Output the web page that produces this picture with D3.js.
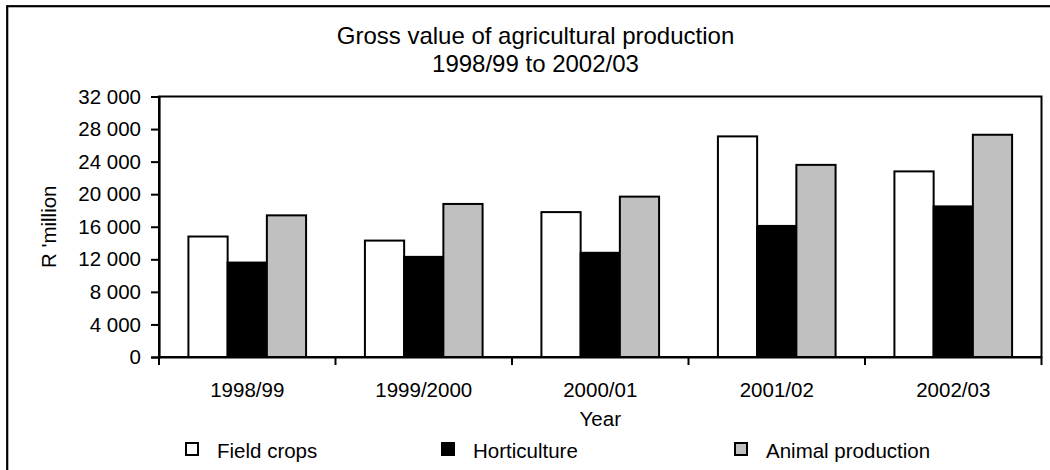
<!DOCTYPE html>
<html>
<head>
<meta charset="utf-8">
<script src="https://cdn.jsdelivr.net/npm/d3@7"></script>
<style>
  html, body { margin: 0; padding: 0; background: #fff; overflow: hidden; }
  svg { display: block; font-family: "Liberation Sans", Arial, sans-serif; }
</style>
</head>
<body>
<svg id="chart" width="1050" height="470"></svg>
<script>
const categories = ["1998/99", "1999/2000", "2000/01", "2001/02", "2002/03"];
const seriesNames = ["Field crops", "Horticulture", "Animal production"];
const fieldCrops = [14800, 14300, 17800, 27100, 22800];
const horticulture = [11600, 12300, 12800, 16100, 18500];
const animalProduction = [17400, 18800, 19700, 23600, 27300];
const yTicks = [0, 4000, 8000, 12000, 16000, 20000, 24000, 28000, 32000];
const titleLines = ["Gross value of agricultural production", "1998/99 to 2002/03"];
const yTitle = "R 'million";
const xTitle = "Year";

(function () {
const seriesValues = [fieldCrops, horticulture, animalProduction];
const seriesFill = ["#ffffff", "#000000", "#c0c0c0"];

const svg = d3.select("#chart");
const pL = 159, pR = 1041.5, pT = 96.5, pB = 357;
const fontSize = 20.5;

// outer border (extends past visible area)
svg.append("rect")
  .attr("x", 7.2).attr("y", 6.2)
  .attr("width", 1060).attr("height", 480)
  .attr("fill", "#fff").attr("stroke", "#000").attr("stroke-width", 2.2);

// title
const title = svg.append("text")
  .attr("text-anchor", "middle")
  .attr("font-size", 24)
  .attr("fill", "#000");
titleLines.forEach((t, i) => {
  title.append("tspan").attr("x", 535.5).attr("y", 43.5 + i * 28.2).text(t);
});

const x0 = d3.scaleBand().domain(categories).range([pL, pR]).paddingInner(0).paddingOuter(0);
const bw = x0.bandwidth();
const gap = bw * 0.75 / 4.5;
const x1 = d3.scaleBand().domain(seriesNames).range([gap, bw - gap]).padding(0);
const y = d3.scaleLinear().domain([0, 32000]).range([pB, pT]);

// plot frame
svg.append("rect")
  .attr("x", pL).attr("y", pT)
  .attr("width", pR - pL).attr("height", pB - pT)
  .attr("fill", "#fff").attr("stroke", "#000").attr("stroke-width", 2);

// bars
const groups = svg.append("g").selectAll("g")
  .data(categories)
  .join("g")
  .attr("transform", d => `translate(${x0(d)},0)`);

groups.selectAll("rect")
  .data((c, ci) => seriesNames.map((s, si) => ({ s, si, v: seriesValues[si][ci] })))
  .join("rect")
  .attr("x", d => x1(d.s))
  .attr("y", d => y(d.v))
  .attr("width", x1.bandwidth())
  .attr("height", d => y(0) - y(d.v))
  .attr("fill", d => seriesFill[d.si])
  .attr("stroke", "#000")
  .attr("stroke-width", 2);

// y axis
const yAxis = svg.append("g")
  .attr("transform", `translate(${pL},0)`)
  .call(d3.axisLeft(y).tickValues(yTicks).tickSize(8).tickPadding(10)
    .tickFormat(d => d3.format(",")(d).replace(/,/g, " ")));
yAxis.select(".domain").attr("stroke", "#000").attr("stroke-width", 2.2);
yAxis.selectAll(".tick line").attr("stroke", "#000").attr("stroke-width", 2);
yAxis.selectAll(".tick text").attr("font-size", fontSize).attr("fill", "#000")
  .attr("font-family", "Liberation Sans, Arial, sans-serif");

// x axis
const xAxis = svg.append("g")
  .attr("transform", `translate(0,${pB})`)
  .call(d3.axisBottom(x0).tickSize(0).tickPadding(0));
xAxis.select(".domain").attr("stroke", "#000").attr("stroke-width", 2.2);
xAxis.selectAll(".tick text").attr("font-size", fontSize).attr("fill", "#000")
  .attr("font-family", "Liberation Sans, Arial, sans-serif")
  .attr("dy", null).attr("y", 396.5 - pB);
// category boundary ticks
const boundaries = categories.map(c => x0(c)).concat([x0(categories[categories.length - 1]) + bw]);
xAxis.selectAll("line.bound")
  .data(boundaries)
  .join("line")
  .attr("class", "bound")
  .attr("x1", d => d).attr("x2", d => d)
  .attr("y1", 0).attr("y2", 8)
  .attr("stroke", "#000").attr("stroke-width", 2);

// axis titles
svg.append("text")
  .attr("x", (pL + pR) / 2).attr("y", 425.5)
  .attr("text-anchor", "middle").attr("font-size", fontSize).attr("fill", "#000")
  .text(xTitle);
svg.append("text")
  .attr("transform", `translate(55.5,${(pT + pB) / 2}) rotate(-90)`)
  .attr("text-anchor", "middle").attr("font-size", fontSize).attr("fill", "#000")
  .text(yTitle);

// legend
const legendX = [186, 442, 735];
const legend = svg.append("g").selectAll("g")
  .data(seriesNames)
  .join("g")
  .attr("transform", (d, i) => `translate(${legendX[i]},443)`);
legend.append("rect")
  .attr("x", 0).attr("y", 0).attr("width", 12).attr("height", 12)
  .attr("fill", (d, i) => seriesFill[i])
  .attr("stroke", "#000").attr("stroke-width", 2);
legend.append("text")
  .attr("x", 31).attr("y", 14.5)
  .attr("font-size", fontSize).attr("fill", "#000")
  .text(d => d);
})();
</script>
</body>
</html>
